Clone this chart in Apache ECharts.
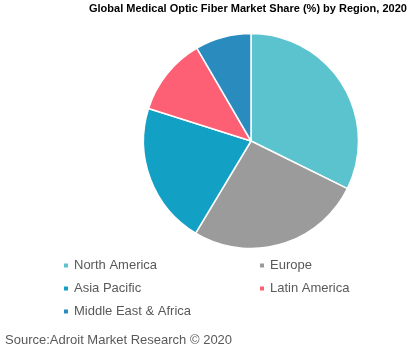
<!DOCTYPE html>
<html>
<head>
<meta charset="utf-8">
<script src="https://cdn.jsdelivr.net/npm/echarts@6/dist/echarts.min.js"></script>
<style>
  html, body { margin: 0; padding: 0; background: #fff; }
  #chart { width: 411px; height: 352px; }
</style>
</head>
<body>
<div id="chart"></div>
<script>
// region shares, clockwise from 12 o'clock
var regions = ['North America', 'Europe', 'Asia Pacific', 'Latin America', 'Middle East & Africa'];
var shares = [32.3, 26.3, 21.3, 11.7, 8.4];
var colors = ['#5bc3ce', '#9b9b9b', '#12a0c5', '#fd5f74', '#2a8cbe'];

var leftLegend = ['North America', 'Asia Pacific', 'Middle East & Africa'];
var rightLegend = ['Europe', 'Latin America'];

var chart = echarts.init(document.getElementById('chart'));

var pieData = [];
for (var i = 0; i < regions.length; i++) {
    pieData.push({ name: regions[i], value: shares[i], itemStyle: { color: colors[i] } });
}

var legendText = { fontSize: 13, color: '#595959', fontFamily: 'Liberation Sans, Arial, sans-serif' };

var option = {
    animation: false,
    title: {
        text: 'Global Medical Optic Fiber Market Share (%) by Region, 2020',
        left: 89,
        top: 3,
        padding: 0,
        textStyle: {
            fontSize: 11,
            fontWeight: 'bold',
            color: '#000',
            fontFamily: 'Liberation Sans, Arial, sans-serif'
        }
    },
    legend: [{
        orient: 'vertical',
        left: 62,
        top: 259,
        padding: 0,
        icon: 'rect',
        itemWidth: 6,
        itemHeight: 6,
        itemGap: 10,
        textStyle: legendText,
        data: leftLegend
    }, {
        orient: 'vertical',
        left: 258,
        top: 259,
        padding: 0,
        icon: 'rect',
        itemWidth: 6,
        itemHeight: 6,
        itemGap: 10,
        textStyle: legendText,
        data: rightLegend
    }],
    graphic: [{
        type: 'text',
        left: 5,
        top: 334,
        style: {
            text: 'Source:Adroit Market Research \u00a9 2020',
            fontSize: 13,
            fill: '#595959',
            fontFamily: 'Liberation Sans, Arial, sans-serif'
        }
    }],
    series: [{
        type: 'pie',
        center: [251, 141],
        radius: 107.5,
        startAngle: 90,
        clockwise: true,
        label: { show: false },
        labelLine: { show: false },
        emphasis: { disabled: true },
        itemStyle: { borderColor: '#fff', borderWidth: 1.5 },
        data: pieData
    }]
};

chart.setOption(option);
</script>
</body>
</html>
